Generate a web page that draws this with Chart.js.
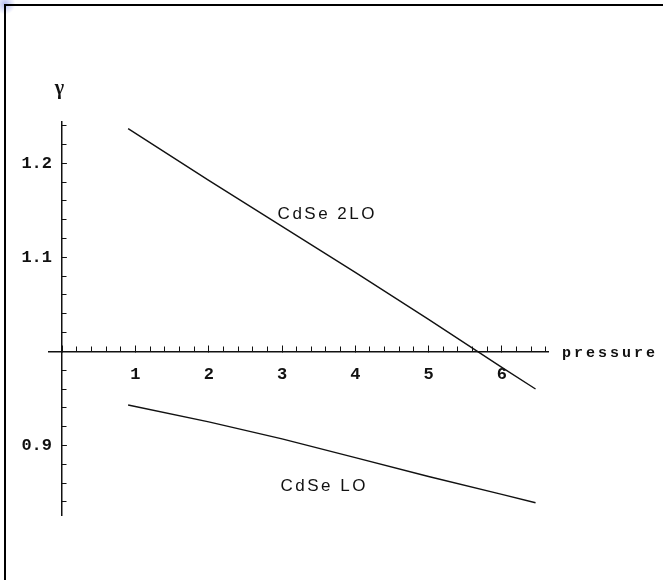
<!DOCTYPE html>
<html>
<head>
<meta charset="utf-8">
<script src="https://cdn.jsdelivr.net/npm/chart.js@4"></script>
<style>
  html, body { margin: 0; padding: 0; background: #fff; }
  #wrap { position: relative; width: 663px; height: 580px; overflow: hidden; }
  #frame { position: absolute; left: 4px; top: 4px; right: -10px; bottom: -10px;
           border-top: 2px solid #000; border-left: 2px solid #000; }
  #blob { position: absolute; left: -6px; top: -6px; width: 22px; height: 20px;
          background: radial-gradient(circle, rgba(150,160,235,0.7), rgba(190,200,245,0) 70%); }
  canvas { position: absolute; left: 0; top: 0; }
</style>
</head>
<body>
<div id="wrap">
  <canvas id="chart" width="663" height="580"></canvas>
  <div id="blob"></div>
  <div id="frame"></div>
</div>
<script>
// Values
const pressure = [0.9, 2, 3, 4, 5, 6, 6.46];
const gamma2LO = [1.237, 1.182, 1.133, 1.084, 1.034, 0.983, 0.960];
const gammaLO  = [0.943, 0.925, 0.907, 0.887, 0.867, 0.848, 0.839];

// axis tick labels (1.0 and 0 sit at the origin and are left blank)
const xTickLabels = ['1', '2', '3', '4', '5', '6'];
const yTickLabels = ['0.9', '1.1', '1.2'];

// text placed in the plot, in data coordinates
const notes = [
    { text: 'CdSe 2LO', x: 2.94, y: 1.146, font: '17px "Liberation Sans"', spacing: '2.5px' },
    { text: 'CdSe LO', x: 2.98, y: 0.856, font: '17px "Liberation Sans"', spacing: '2.5px' },
    { text: 'pressure', x: 6.82, y: 0.998, font: 'bold 15px "Liberation Mono"', spacing: '3px' },
    { text: '\u03B3', x: -0.10, y: 1.279, font: 'bold 20px "Liberation Serif"', spacing: '0px' }
];

const ink = '#111';

function toPoints(xs, ys) {
    return xs.map((x, i) => ({ x: x, y: ys[i] }));
}

const notesPlugin = {
    id: 'notes',
    afterDraw(chart) {
        const ctx = chart.ctx;
        const xs = chart.scales.x;
        const ys = chart.scales.y;
        ctx.save();
        ctx.fillStyle = ink;
        ctx.textAlign = 'left';
        ctx.textBaseline = 'middle';
        notes.forEach(n => {
            ctx.font = n.font;
            ctx.letterSpacing = n.spacing;
            ctx.fillText(n.text, xs.getPixelForValue(n.x), ys.getPixelForValue(n.y));
        });
        ctx.restore();
    }
};

const lineStyle = {
    borderColor: ink,
    borderWidth: 1.4,
    pointRadius: 0,
    tension: 0,
    fill: false
};

Chart.defaults.font.family = '"Liberation Mono", monospace';
Chart.defaults.color = ink;

function tickGrid(len) {
    return { display: true, drawOnChartArea: false, drawTicks: true, tickLength: len, tickColor: ink, tickWidth: 1 };
}

new Chart(document.getElementById('chart'), {
    type: 'scatter',
    data: {
        datasets: [
            Object.assign({ label: 'CdSe 2LO', data: toPoints(pressure, gamma2LO), showLine: true }, lineStyle),
            Object.assign({ label: 'CdSe LO', data: toPoints(pressure, gammaLO), showLine: true }, lineStyle)
        ]
    },
    options: {
        responsive: false,
        animation: false,
        layout: { padding: { left: 49, right: 115, top: 122, bottom: 65 } },
        plugins: {
            legend: { display: false },
            tooltip: { enabled: false }
        },
        scales: {
            x: {
                type: 'linear',
                position: { y: 1 },
                min: -0.18, max: 6.63,
                grid: tickGrid(-7),
                border: { display: true, color: ink, width: 1.5 },
                ticks: {
                    stepSize: 1, includeBounds: false, autoSkip: false, maxRotation: 0,
                    padding: 20,
                    font: { size: 17, weight: 'bold' },
                    callback: (v) => xTickLabels.includes(String(v)) ? String(v) : ''
                }
            },
            xMinor: {
                type: 'linear',
                position: { y: 1 },
                min: -0.18, max: 6.63,
                grid: tickGrid(-4.5),
                border: { display: false },
                ticks: { stepSize: 0.2, includeBounds: false, maxTicksLimit: 100, display: false }
            },
            y: {
                type: 'linear',
                position: { x: 0 },
                min: 0.826, max: 1.244,
                grid: tickGrid(-5.8),
                border: { display: true, color: ink, width: 1.5 },
                ticks: {
                    stepSize: 0.1, includeBounds: false, autoSkip: false,
                    font: { size: 17, weight: 'bold' },
                    callback: (v) => {
                        const s = v.toFixed(1);
                        return yTickLabels.includes(s) ? s + ' ' : '';
                    }
                }
            },
            yMinor: {
                type: 'linear',
                position: { x: 0 },
                min: 0.826, max: 1.244,
                grid: tickGrid(-4.5),
                border: { display: false },
                ticks: { stepSize: 0.02, includeBounds: false, maxTicksLimit: 100, display: false }
            }
        }
    },
    plugins: [notesPlugin]
});
</script>
</body>
</html>
